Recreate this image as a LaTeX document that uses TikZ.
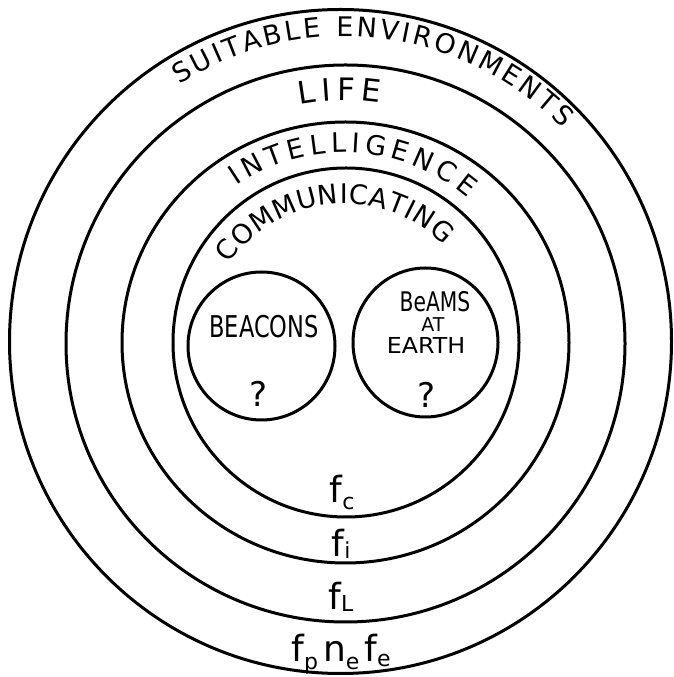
\documentclass[tikz,border=0pt]{standalone}
\usepackage{fontspec}
\setmainfont{DejaVu Sans}
\usetikzlibrary{decorations.text,calc,shapes.geometric}
\newcommand\subt[2][-5pt]{\raisebox{#1}{\fontsize{22}{22}\selectfont #2}}
\begin{document}
\begin{tikzpicture}[x=1pt,y=1pt,
  ring/.style={draw=black, ellipse, line width=3pt, inner sep=0pt, outer sep=0pt},
  hw/.style={inner sep=0pt, font=\fontsize{#1}{#1}\selectfont},
]
\fill[white] (0,0) rectangle (674,677);
\useasboundingbox (0,0) rectangle (674,677);
% rings
\node[ring, minimum width=662pt, minimum height=664pt] (outer) at (340.5,335.5) {};
\node[ring, minimum width=559pt, minimum height=557pt] (life) at (345.5,333.5) {};
\node[ring, minimum width=447pt, minimum height=441pt] (intel) at (345.5,334.5) {};
\node[ring, minimum width=346pt, minimum height=349pt] (comm) at (346,334.5) {};
\node[ring, minimum width=147pt, minimum height=148pt] (beacons) at (261.5,331) {};
\node[ring, minimum width=145pt, minimum height=149pt] (beams) at (425.5,334.5) {};
\coordinate (ctr) at (344,334.5);
% curved labels
\path[decorate, decoration={text along path, text align={fit to path},
  text={|\fontsize{27}{27}\selectfont|SUITABLE ENVIRONMENTS}}]
  ($(ctr)+(122.5:306)$) arc[start angle=122.5, end angle=44.5, radius=306];
\path[decorate, decoration={text along path, text align={fit to path},
  text={|\fontsize{31}{31}\selectfont|LIFE}}]
  ($(ctr)+(100.5:242)$) arc[start angle=100.5, end angle=81.4, radius=242];
\path[decorate, decoration={text along path, text align={fit to path},
  text={|\fontsize{27}{27}\selectfont|INTELLIGENCE}}]
  ($(ctr)+(124.5:190)$) arc[start angle=124.5, end angle=49.5, radius=190];
\path[decorate, decoration={text along path, text align={fit to path},
  text={|\fontsize{27}{27}\selectfont|COMMUNICATING}}]
  ($(ctr)+(145.7:139)$) arc[start angle=145.7, end angle=44.3, radius=139];
% inner circle texts
\node[hw=30, xscale=0.75] (tbeacons) at (264,350) {BEACONS};
\node[hw=34] (q1) at (259,283) {?};
\node[hw=27, xscale=0.75] (tbeams) at (435,375) {BeAMS};
\node[hw=19] (tat) at (433,352) {AT};
\node[hw=22, xscale=1.08] (tearth) at (426,332) {EARTH};
\node[hw=34] (q2) at (427,282) {?};
% factors
\node[hw=36, anchor=base] (fc) at (342,174) {f\subt[-7pt]{c}};
\node[hw=36, anchor=base] (fi) at (341,120) {f\subt[-2pt]{i}};
\node[hw=36, anchor=base] (fl) at (341,67) {f\subt[-2pt]{L}};
\node[hw=36, anchor=base] (fpnefe) at (341,15) {f\subt[-7pt]{p}\hspace{5pt}n\subt[-7pt]{e}\hspace{5pt}f\subt[-5pt]{e}};
\end{tikzpicture}
\end{document}
